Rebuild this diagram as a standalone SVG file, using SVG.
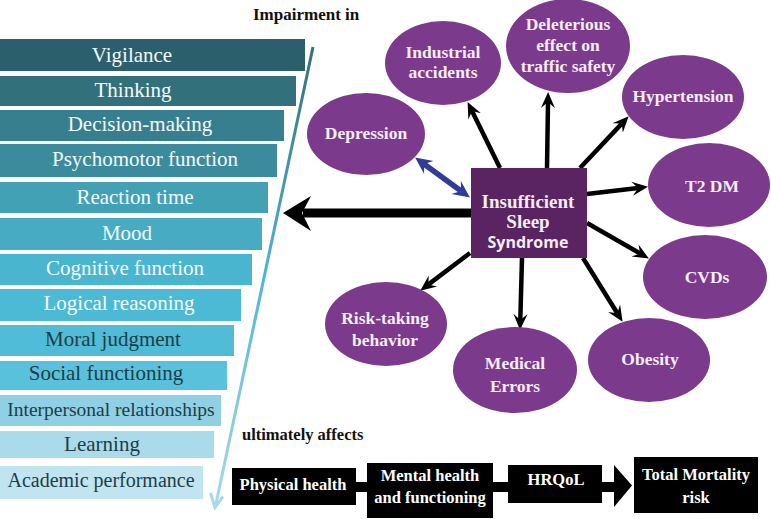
<svg xmlns="http://www.w3.org/2000/svg" width="771" height="519" viewBox="0 0 771 519">
<style>
.bar text{font-family:"Liberation Serif",serif;font-size:21px;text-anchor:middle}
.lt{fill:#f4fafc}
.dk{fill:#1e3d45}
.ell ellipse{fill:#7c3a8c}
.ell text,.box text{font-family:"Liberation Serif",serif;font-weight:bold;font-size:17.5px;fill:#f5eef6;text-anchor:middle}
.blk rect{fill:#000}
.blk text{font-family:"Liberation Serif",serif;font-weight:bold;font-size:16.5px;fill:#fff;text-anchor:middle}
.hd{font-family:"Liberation Serif",serif;font-weight:bold;font-size:16.5px;fill:#111}
.arr{stroke:#000;stroke-width:4.5;fill:none}
</style>
<defs>
<marker id="ah" markerUnits="userSpaceOnUse" markerWidth="18" markerHeight="16" refX="6" refY="8" orient="auto">
<path d="M0,1 L16,8 L0,15 L6,8 z" fill="#000"/>
</marker>
<marker id="bh" markerUnits="userSpaceOnUse" markerWidth="20" markerHeight="18" refX="6" refY="9" orient="auto-start-reverse">
<path d="M0,1 L17,9 L0,17 L6,9 z" fill="#2f3d96"/>
</marker>
<linearGradient id="dg" gradientUnits="userSpaceOnUse" x1="313" y1="47" x2="215" y2="508">
<stop offset="0" stop-color="#33707c"/>
<stop offset="0.5" stop-color="#4fb6d2"/>
<stop offset="1" stop-color="#a9d9e9"/>
</linearGradient>
</defs>
<rect width="771" height="519" fill="#fff"/>

<text class="hd" x="253" y="20" style="font-size:17px">Impairment in</text>

<g id="bars" class="bar">
<g id="b1"><rect x="0" y="39" width="305" height="32" fill="#2b5f6b"/><text class="lt" x="132" y="62">Vigilance</text></g>
<g id="b2"><rect x="0" y="76" width="296" height="30" fill="#32707c"/><text class="lt" x="133" y="97">Thinking</text></g>
<g id="b3"><rect x="0" y="110" width="284" height="31" fill="#377f8e"/><text class="lt" x="140" y="131">Decision-making</text></g>
<g id="b4"><rect x="0" y="144" width="277" height="33" fill="#3b8b9c"/><text class="lt" x="145" y="166">Psychomotor function</text></g>
<g id="b5"><rect x="0" y="182" width="268" height="31" fill="#43a1b6"/><text class="lt" x="135" y="204">Reaction time</text></g>
<g id="b6"><rect x="0" y="218" width="262" height="32" fill="#47acc3"/><text class="lt" x="127" y="240">Mood</text></g>
<g id="b7"><rect x="0" y="254" width="252" height="31" fill="#4ab5ce"/><text class="lt" x="125" y="275">Cognitive function</text></g>
<g id="b8"><rect x="0" y="289" width="241" height="32" fill="#4dbad5"/><text class="lt" x="119" y="310">Logical reasoning</text></g>
<g id="b9"><rect x="0" y="325" width="234" height="31" fill="#50bcd8"/><text class="dk" x="113" y="346">Moral judgment</text></g>
<g id="b10"><rect x="0" y="361" width="227" height="29" fill="#5ac1dc"/><text class="dk" x="106" y="380">Social functioning</text></g>
<g id="b11"><rect x="0" y="395" width="221" height="31" fill="#8fd0e4"/><text class="dk" x="111" y="416" style="font-size:19.5px">Interpersonal relationships</text></g>
<g id="b12"><rect x="0" y="431" width="214" height="27" fill="#aadbeb"/><text class="dk" x="102" y="451">Learning</text></g>
<g id="b13"><rect x="0" y="466" width="203" height="33" fill="#c0e4f0"/><text class="dk" x="101" y="487" style="font-size:20px">Academic performance</text></g>
</g>

<g id="connectors">
<line x1="313" y1="47" x2="215.5" y2="506" stroke="url(#dg)" stroke-width="3"/>
<path d="M210.5,493 L215,507.5 L223,496.5" fill="none" stroke="#a9d9e9" stroke-width="3"/>
<line x1="471" y1="213" x2="303" y2="213" stroke="#000" stroke-width="9"/>
<polygon points="283,213 311,196 302,213 311,231" fill="#000"/>
<line x1="424" y1="164" x2="461" y2="191" stroke="#2f3d96" stroke-width="5.5" marker-start="url(#bh)" marker-end="url(#bh)"/>
<line class="arr" x1="500" y1="168" x2="472" y2="111" marker-end="url(#ah)"/>
<line class="arr" x1="547" y1="168" x2="548" y2="102" marker-end="url(#ah)"/>
<line class="arr" x1="580" y1="168" x2="621.8" y2="123.6" marker-end="url(#ah)"/>
<line class="arr" x1="587" y1="194" x2="638.1" y2="188" marker-end="url(#ah)"/>
<line class="arr" x1="587" y1="223" x2="640.2" y2="253.5" marker-end="url(#ah)"/>
<line class="arr" x1="583" y1="258" x2="617.3" y2="313.3" marker-end="url(#ah)"/>
<line class="arr" x1="522" y1="258" x2="520.3" y2="320" marker-end="url(#ah)"/>
<line class="arr" x1="470" y1="253" x2="428.2" y2="284.6" marker-end="url(#ah)"/>
<rect x="232" y="482" width="384" height="10" fill="#000"/>
<polygon points="614,465 632,485.5 614,507" fill="#000"/>
</g>

<g id="center" class="box">
<rect x="471" y="168" width="116" height="90" fill="#5a2362"/>
<text x="528" y="208" style="font-size:19px">Insufficient</text>
<text x="528" y="228" style="font-size:19px">Sleep</text>
<text x="528" y="248" style="font-family:'Open Sans','Liberation Sans',sans-serif;font-size:16px">Syndrome</text>
</g>

<g id="depression" class="ell"><ellipse cx="366" cy="134" rx="59" ry="41"/><text x="366" y="139">Depression</text></g>
<g id="industrial" class="ell"><ellipse cx="443" cy="63" rx="58" ry="42"/><text x="443" y="58">Industrial</text><text x="443" y="78">accidents</text></g>
<g id="traffic" class="ell"><ellipse cx="568" cy="46" rx="62" ry="47"/><text x="568" y="30">Deleterious</text><text x="568" y="51">effect on</text><text x="568" y="72">traffic safety</text></g>
<g id="hypertension" class="ell"><ellipse cx="683" cy="97" rx="61" ry="42"/><text x="683" y="102">Hypertension</text></g>
<g id="t2dm" class="ell"><ellipse cx="709" cy="185" rx="61" ry="42"/><text x="712" y="192">T2 DM</text></g>
<g id="cvds" class="ell"><ellipse cx="705" cy="277" rx="62" ry="42"/><text x="707" y="283">CVDs</text></g>
<g id="obesity" class="ell"><ellipse cx="649" cy="360" rx="61" ry="42"/><text x="650" y="365">Obesity</text></g>
<g id="medical" class="ell"><ellipse cx="515" cy="370" rx="62" ry="43"/><text x="515" y="369">Medical</text><text x="515" y="392">Errors</text></g>
<g id="risk" class="ell"><ellipse cx="386" cy="324" rx="61" ry="42"/><text x="385" y="324">Risk-taking</text><text x="385" y="346">behavior</text></g>

<text class="hd" x="242" y="440">ultimately affects</text>

<g id="physical" class="blk"><rect x="232" y="468" width="124" height="37"/><text x="293" y="490">Physical health</text></g>
<g id="mental" class="blk"><rect x="367" y="463" width="126" height="55"/><text x="430" y="481">Mental health</text><text x="430" y="503">and functioning</text></g>
<g id="hrqol" class="blk"><rect x="508" y="465" width="94" height="38"/><text x="556" y="485">HRQoL</text></g>
<g id="mortality" class="blk"><rect x="634" y="457" width="124" height="56"/><text x="696" y="480">Total Mortality</text><text x="696" y="503">risk</text></g>
</svg>
